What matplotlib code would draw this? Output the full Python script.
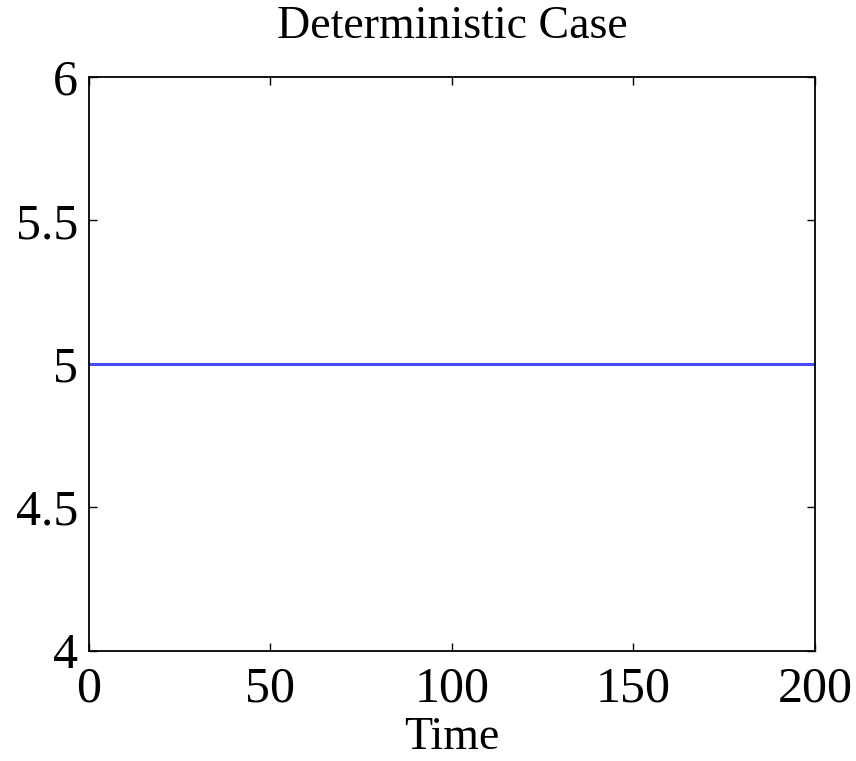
import numpy as np
import matplotlib.pyplot as plt

# deterministic trajectory: constant level over time
time = [0, 200]
level = [5, 5]

xticks = [0, 50, 100, 150, 200]
yticks = [4, 4.5, 5, 5.5, 6]
ytick_labels = ['4', '4.5', '5', '5.5', '6']

plt.rcParams['font.family'] = ['Liberation Serif', 'DejaVu Serif']

fig = plt.figure(figsize=(8.56, 7.61), dpi=100)
ax = fig.add_axes([0.104, 0.145, 0.848, 0.754])

ax.plot(time, level, color='#4a4aff', linewidth=2.2)

ax.set_xlim(0, 200)
ax.set_ylim(4, 6)
ax.set_xticks(xticks)
ax.set_yticks(yticks)
ax.set_yticklabels(ytick_labels)

ax.tick_params(direction='in', length=6, width=1, top=True, right=True,
               labelsize=36)
ax.tick_params(axis='x', pad=11)
ax.tick_params(axis='y', pad=8)
for s in ax.spines.values():
    s.set_linewidth(1.3)

ax.set_title('Deterministic Case', fontsize=33, pad=28)
ax.set_xlabel('Time', fontsize=33, labelpad=3)

fig.savefig('out.png', dpi=100)
